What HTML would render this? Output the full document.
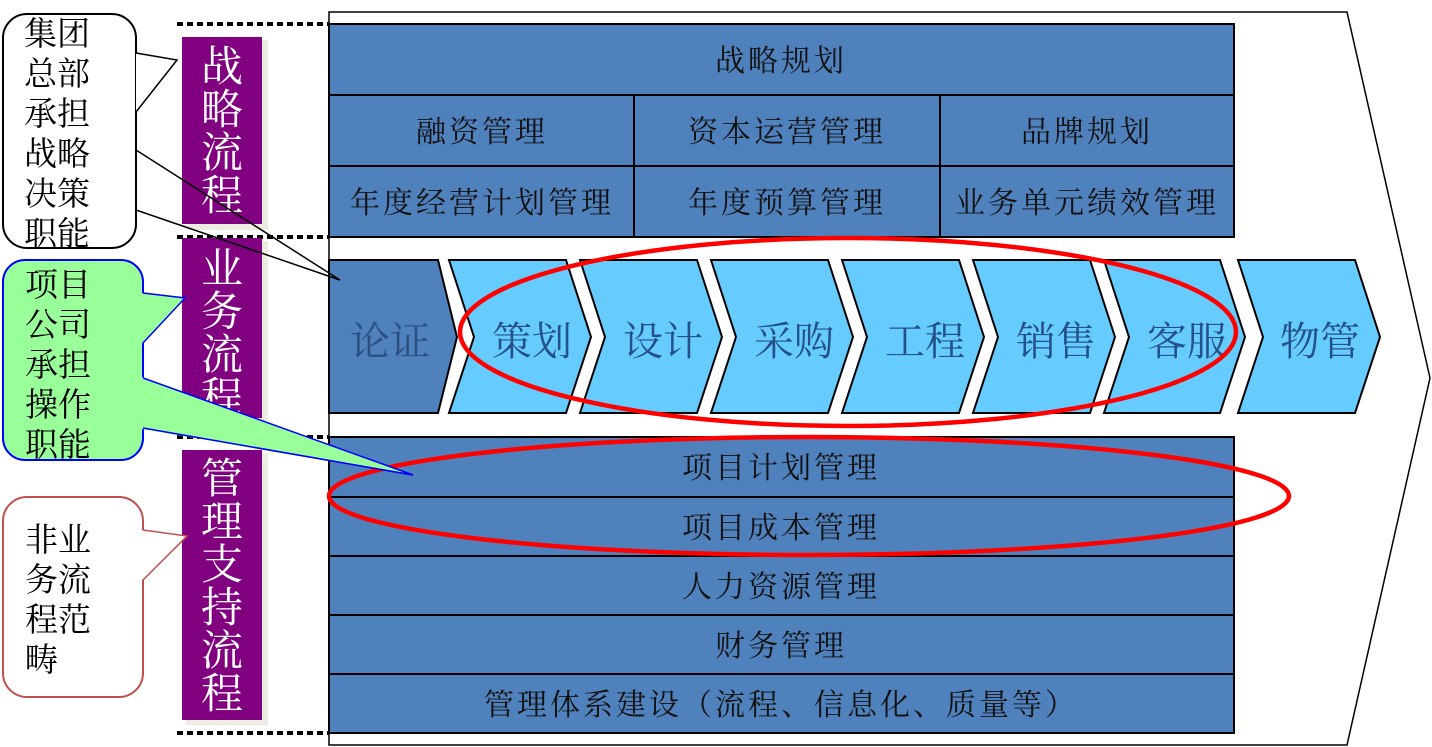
<!DOCTYPE html>
<html><head><meta charset="utf-8"><style>
html,body{margin:0;padding:0;background:#fff;}
svg{display:block;}
text{font-family:"Liberation Serif","Noto Serif CJK SC","Noto Sans CJK SC",serif;}
</style></head><body>
<svg width="1432" height="747" viewBox="0 0 1432 747" xmlns="http://www.w3.org/2000/svg">
<polygon points="329,12 1347,12 1430,378 1347,745 329,745" fill="#fff" stroke="#000" stroke-width="1.5"/>
<g stroke="#000" stroke-width="4" stroke-dasharray="6,4">
<line x1="177" y1="24" x2="329" y2="24"/>
<line x1="177" y1="237" x2="329" y2="237"/>
<line x1="177" y1="437" x2="329" y2="437"/>
<line x1="177" y1="733" x2="329" y2="733"/>
</g>
<g fill="#4f81bd" stroke="#000" stroke-width="2">
<rect x="329" y="24" width="905" height="71"/>
<rect x="329" y="95" width="305" height="71"/>
<rect x="634" y="95" width="306" height="71"/>
<rect x="940" y="95" width="294" height="71"/>
<rect x="329" y="166" width="305" height="71"/>
<rect x="634" y="166" width="306" height="71"/>
<rect x="940" y="166" width="294" height="71"/>
<rect x="329" y="437" width="905" height="60"/>
<rect x="329" y="497" width="905" height="59"/>
<rect x="329" y="556" width="905" height="59"/>
<rect x="329" y="615" width="905" height="59"/>
<rect x="329" y="674" width="905" height="59"/>
</g>
<g font-size="30" fill="#111" text-anchor="middle" letter-spacing="3">
<text x="781" y="71">战略规划</text>
<text x="482" y="142">融资管理</text>
<text x="787" y="142">资本运营管理</text>
<text x="1087" y="142">品牌规划</text>
<text x="482" y="213">年度经营计划管理</text>
<text x="787" y="213">年度预算管理</text>
<text x="1087" y="213">业务单元绩效管理</text>
<text x="781" y="478">项目计划管理</text>
<text x="781" y="538">项目成本管理</text>
<text x="781" y="597">人力资源管理</text>
<text x="781" y="656">财务管理</text>
<text x="781" y="715">管理体系建设（流程、信息化、质量等）</text>
</g>
<polygon points="329,260 438,260 457,337 438,413 329,413" fill="#4f81bd" stroke="#000" stroke-width="2"/>
<g fill="#66ccff" stroke="#000" stroke-width="2">
<polygon points="449,260 566,260 591,337 566,413 449,413 474,337"/>
<polygon points="580,260 697,260 722,337 697,413 580,413 605,337"/>
<polygon points="711,260 828,260 853,337 828,413 711,413 736,337"/>
<polygon points="842,260 959,260 984,337 959,413 842,413 867,337"/>
<polygon points="973,260 1090,260 1115,337 1090,413 973,413 998,337"/>
<polygon points="1104,260 1220,260 1245,337 1220,413 1104,413 1129,337"/>
<polygon points="1238,260 1355,260 1380,337 1355,413 1238,413 1263,337"/>
</g>
<g font-size="40" fill="#24518a" text-anchor="middle">
<text x="390" y="355" fill="#2a5080">论证</text>
<text x="532" y="355">策划</text>
<text x="663" y="355">设计</text>
<text x="794" y="355">采购</text>
<text x="925" y="355">工程</text>
<text x="1056" y="355">销售</text>
<text x="1187" y="355">客服</text>
<text x="1320" y="355">物管</text>
</g>
<g fill="#eeebe2">
<rect x="186" y="40" width="82" height="190"/>
<rect x="186" y="241" width="82" height="180"/>
<rect x="186" y="453" width="82" height="272"/>
</g>
<g fill="#800080">
<rect x="182" y="37" width="80" height="187"/>
<rect x="182" y="238" width="80" height="180"/>
<rect x="182" y="450" width="80" height="270"/>
</g>
<g font-size="42" fill="#fff" text-anchor="middle">
<text x="222" y="81">战</text><text x="222" y="124">略</text><text x="222" y="167">流</text><text x="222" y="210">程</text>
<text x="222" y="283">业</text><text x="222" y="326">务</text><text x="222" y="369">流</text><text x="222" y="412">程</text>
<text x="222" y="493">管</text><text x="222" y="536">理</text><text x="222" y="579">支</text><text x="222" y="622">持</text><text x="222" y="665">流</text><text x="222" y="708">程</text>
</g>
<ellipse cx="848" cy="332" rx="388" ry="94" fill="none" stroke="#ff0000" stroke-width="4.5"/>
<ellipse cx="809" cy="496" rx="480" ry="59" fill="none" stroke="#ff0000" stroke-width="4.5"/>
<rect x="3" y="14" width="133" height="234" rx="24" fill="#fff" stroke="#000" stroke-width="2"/>
<polyline points="136,53 177,60 136,112" fill="#fff" stroke="#000" stroke-width="1.5"/>
<polyline points="136,150 340,280 136,210" fill="none" stroke="#000" stroke-width="1.5"/>
<path d="M143,378 L413,475 L143,428 Z" fill="#99ff99" stroke="#0000ff" stroke-width="1.5"/>
<rect x="3" y="260" width="140" height="200" rx="22" fill="#99ff99" stroke="#0000ff" stroke-width="2"/>
<polygon points="142,377 413,475 142,429" fill="#99ff99"/>
<polyline points="143,378 413,475 143,428" fill="none" stroke="#0000ff" stroke-width="1.5"/>
<polygon points="142,293 185,298 142,343" fill="#99ff99"/>
<polyline points="143,293 185,298 143,343" fill="none" stroke="#0000ff" stroke-width="1.5"/>
<rect x="3" y="497" width="140" height="200" rx="24" fill="#fff" stroke="#c0504d" stroke-width="2"/>
<polygon points="142,530 187,536 142,580" fill="#fff"/>
<polyline points="143,530 187,536 143,580" fill="none" stroke="#c0504d" stroke-width="1.5"/>
<g font-size="33" fill="#000">
<text x="24" y="45">集团</text><text x="24" y="85">总部</text><text x="24" y="125">承担</text><text x="24" y="165">战略</text><text x="24" y="205">决策</text><text x="24" y="245">职能</text>
<text x="25" y="296">项目</text><text x="25" y="336">公司</text><text x="25" y="376">承担</text><text x="25" y="416">操作</text><text x="25" y="456">职能</text>
<text x="25" y="551">非业</text><text x="25" y="591">务流</text><text x="25" y="631">程范</text><text x="25" y="671">畴</text>
</g>
</svg>
</body></html>
